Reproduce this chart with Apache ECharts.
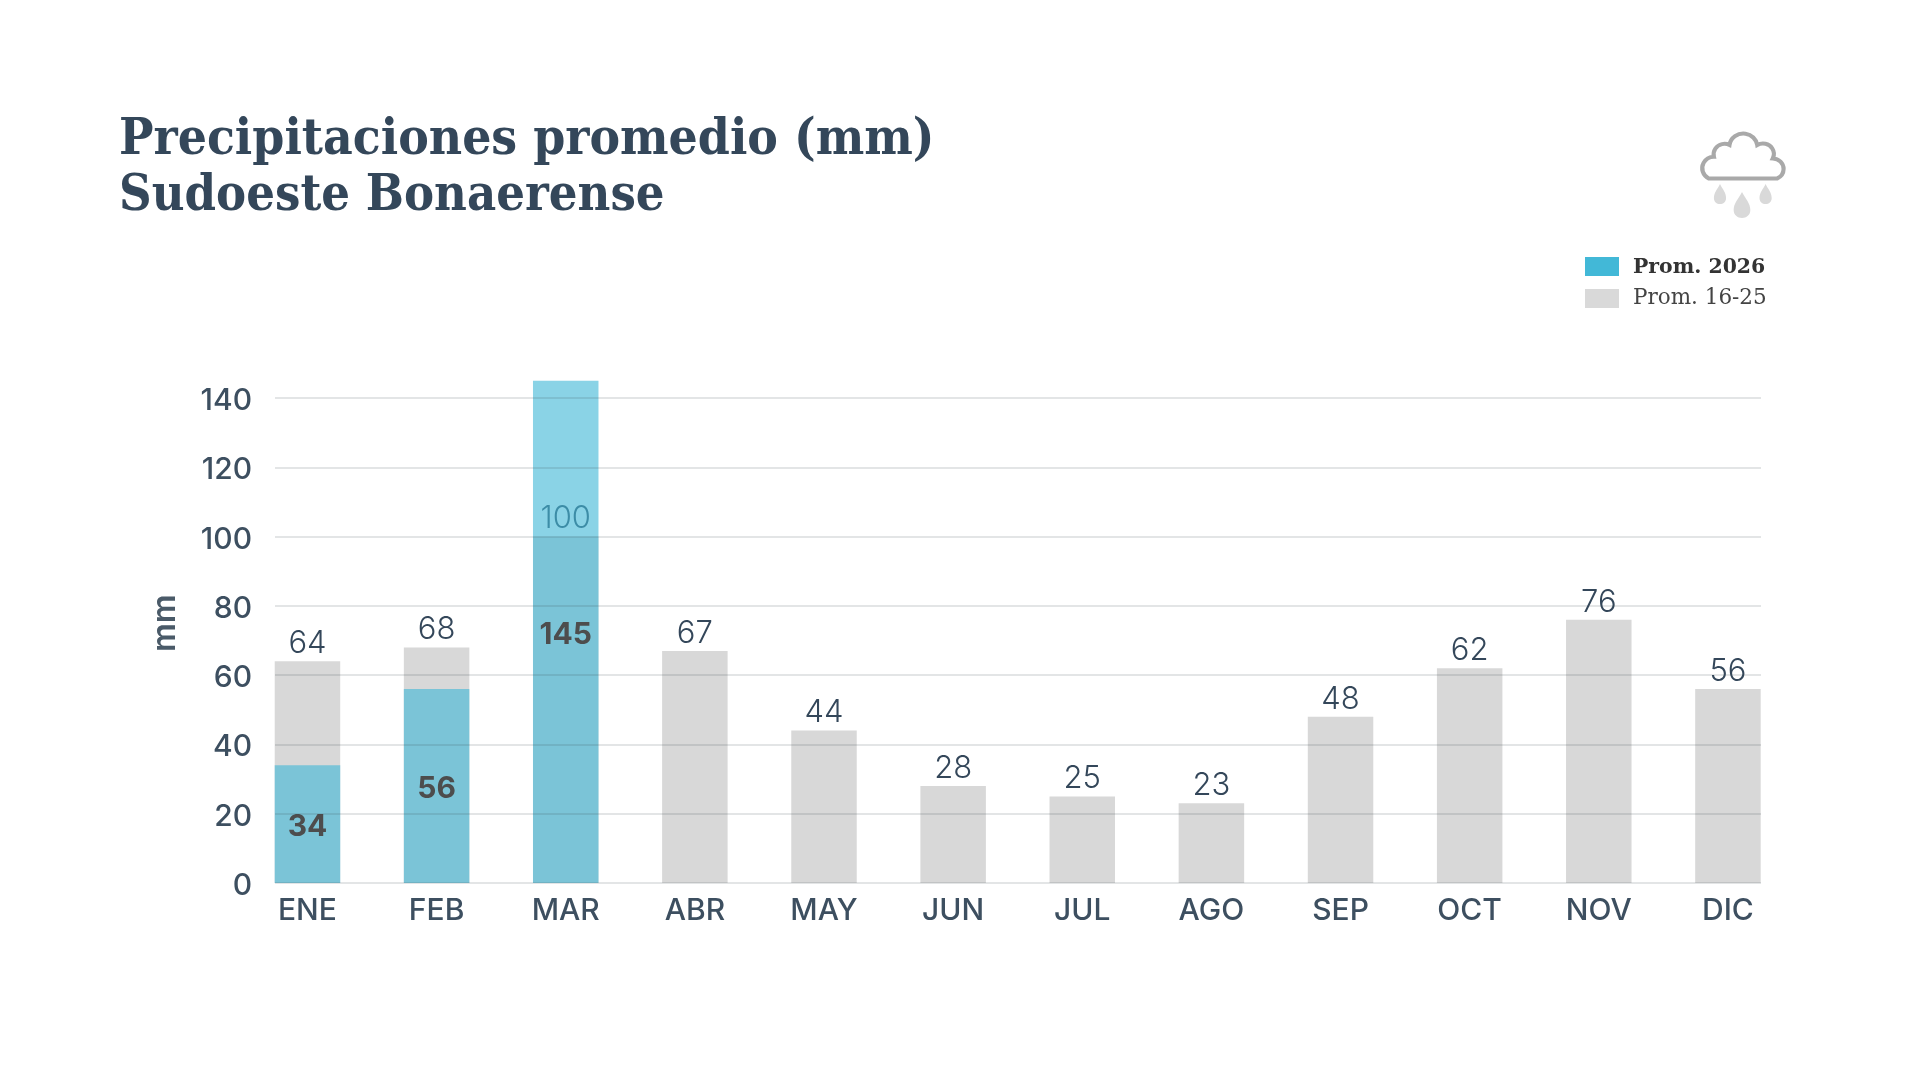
<!DOCTYPE html>
<html><head><meta charset="utf-8">
<style>html,body{margin:0;padding:0;background:#fff}#c{width:1920px;height:1080px}</style>
<script src="https://cdn.jsdelivr.net/npm/echarts@6/dist/echarts.min.js"></script>
</head><body><div id="c"></div>
<script>
const months = ['ENE','FEB','MAR','ABR','MAY','JUN','JUL','AGO','SEP','OCT','NOV','DIC'];
const prom1625 = [64,68,100,67,44,28,25,23,48,62,76,56];
const prom2026 = [34,56,145,null,null,null,null,null,null,null,null,null];
const titleLines = ['Precipitaciones promedio (mm)','Sudoeste Bonaerense'];
const seriesNames = ['Prom. 2026','Prom. 16-25'];
const SANS = 'Inter';
const cloudPath = 'M-33,22.7 A11.5,11.5 0 0 1 -28,1 A10.5,10.5 0 0 1 -13,-10.7 A13.5,13.5 0 0 1 13.7,-10.7 A10.5,10.5 0 0 1 28.7,2.7 A10.5,10.5 0 0 1 33,22.7 Z';
const dropPath = 'M0,-14 C3,-8 7,-4 7,2 C7,6.5 3.8,9 0,9 C-3.8,9 -7,6.5 -7,2 C-7,-4 -3,-8 0,-14 Z';
echarts.graphic.registerShape('cloudIcon', echarts.graphic.extendPath(cloudPath,{}));
echarts.graphic.registerShape('dropIcon', echarts.graphic.extendPath(dropPath,{}));
const chart = echarts.init(document.getElementById('c'));
const titleFont = 'bold 51px "DejaVu Serif"';
const axisText = {fontFamily:SANS,fontWeight:500,fontSize:30,color:'#3d4f60'};
const TOP = 363.4, H = 519.6;
chart.setOption({
  animation:false,
  backgroundColor:'#fff',
  textStyle:{fontFamily:SANS},
  legend:{
    orient:'vertical',left:1580,top:252,padding:5,itemWidth:34,itemHeight:19,itemGap:10,selectedMode:false,icon:'rect',
    data:[{name:seriesNames[0],itemStyle:{color:'#42b8d7'}},{name:seriesNames[1],itemStyle:{color:'#d9d9d9'}}],
    formatter:n=>n===seriesNames[0]?'{b|'+n+'}':'{r|'+n+'}',
    textStyle:{rich:{
      b:{fontFamily:'DejaVu Serif',fontWeight:'bold',fontSize:20.4,color:'#333',padding:[2,0,0,9]},
      r:{fontFamily:'DejaVu Serif',fontSize:21.5,color:'#444',padding:[0,0,0,9]}}}
  },
  grid:[
    {left:275,width:1486,top:TOP,height:H},
    {left:242.9,width:1549.6,top:TOP,height:H}
  ],
  xAxis:[
    {type:'category',gridIndex:0,show:false,data:months},
    {type:'category',gridIndex:1,data:months,axisTick:{show:false},axisLine:{show:false},
     axisLabel:{...axisText,margin:13}}
  ],
  yAxis:[
    {type:'value',gridIndex:0,z:5,min:0,max:150,interval:20,name:'mm',nameLocation:'middle',nameGap:94,nameRotate:90,
     nameTextStyle:{fontFamily:SANS,fontWeight:600,fontSize:32,color:'#4a5a68'},
     axisLine:{show:false},axisTick:{show:false},
     axisLabel:{showMaxLabel:false,margin:23,formatter:'{a|{value}}',
       rich:{a:{...axisText,padding:[6,0,0,0]}}},
     splitLine:{showMaxLine:false,lineStyle:{color:'rgba(60,70,80,0.14)',width:2}}},
    {type:'value',gridIndex:1,min:0,max:150,interval:20,show:false,splitLine:{show:false}}
  ],
  series:[
    {name:seriesNames[1],type:'bar',z:2,xAxisIndex:1,yAxisIndex:1,barWidth:65.5,barGap:'-100%',
     data:prom1625,
     itemStyle:{color:'#d8d8d8'},
     label:{show:true,position:'top',distance:2,fontFamily:SANS,fontWeight:300,fontSize:31,color:'#34475a'},
     labelLayout:{hideOverlap:false}},
    {name:seriesNames[0],type:'bar',z:3,xAxisIndex:1,yAxisIndex:1,data:prom2026,barWidth:65.5,barGap:'-100%',
     itemStyle:{color:'rgba(66,184,215,0.62)'},
     label:{show:true,position:'inside',offset:[0,3],fontFamily:SANS,fontWeight:700,fontSize:30,color:'#4d4d4d'}}
  ],
  graphic:[
    {type:'text',x:119,y:115,scaleX:0.9,style:{text:titleLines[0],font:titleFont,fill:'#34475a',textVerticalAlign:'top'}},
    {type:'text',x:119,y:171,scaleX:0.886,style:{text:titleLines[1],font:titleFont,fill:'#34475a',textVerticalAlign:'top'}},
    {type:'cloudIcon',x:1743,y:155.7,scaleX:1.04,style:{fill:'#fff',stroke:'#a9a9a9',lineWidth:4}},
    {type:'dropIcon',x:1720,y:196.2,scaleX:0.87,scaleY:0.87,style:{fill:'#d9d9d9'}},
    {type:'dropIcon',x:1742,y:207.8,scaleX:1.19,scaleY:1.13,style:{fill:'#d9d9d9'}},
    {type:'dropIcon',x:1765.6,y:196.2,scaleX:0.87,scaleY:0.87,style:{fill:'#d9d9d9'}}
  ]
});
</script></body></html>
